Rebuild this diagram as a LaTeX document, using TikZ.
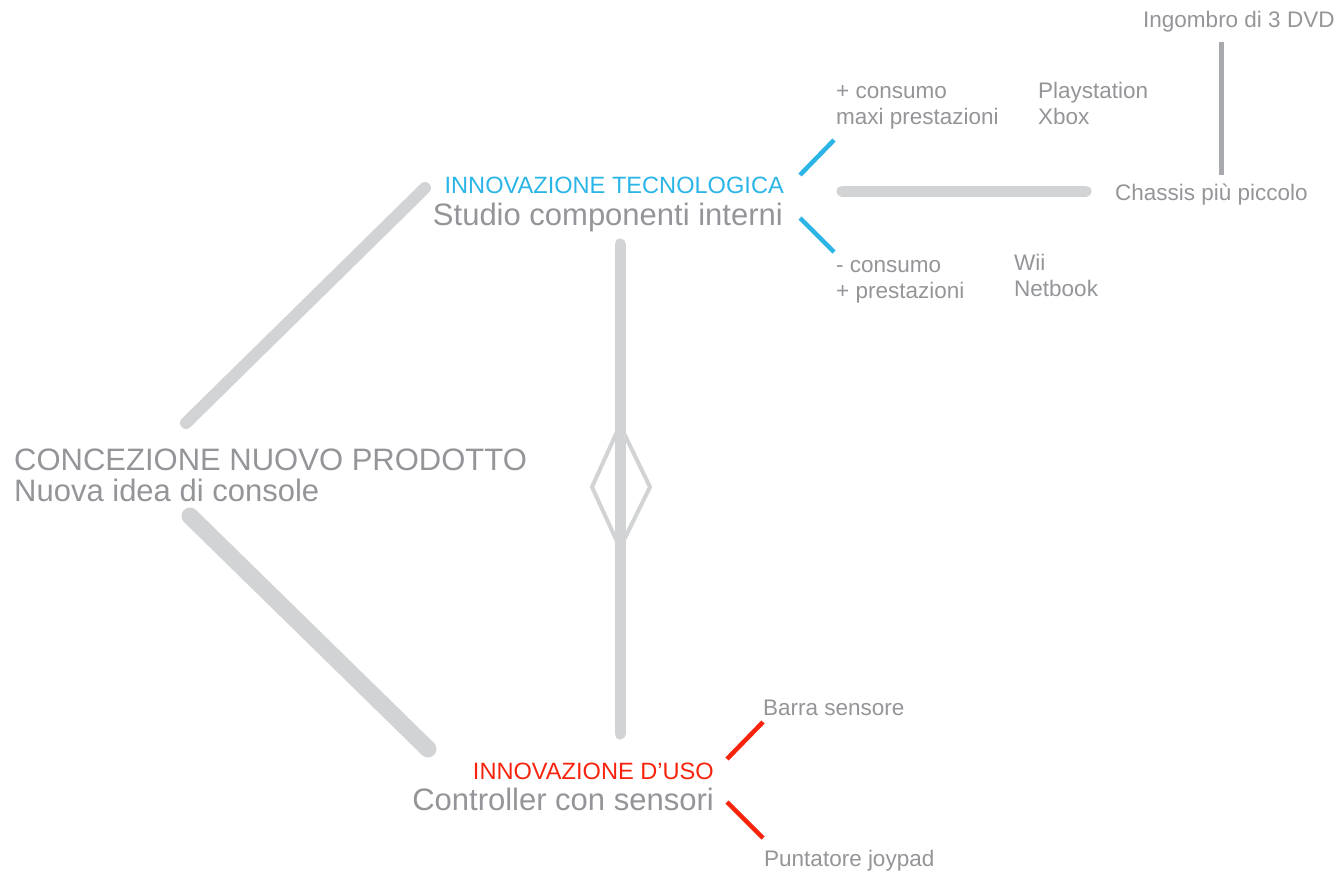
\documentclass[tikz,border=0pt]{standalone}
\usepackage{fontspec}
\setmainfont{Liberation Sans}
\usetikzlibrary{positioning}
\definecolor{txtgray}{HTML}{939598}
\definecolor{linegray}{HTML}{D1D3D4}
\definecolor{darkline}{HTML}{A7A9AC}
\definecolor{techblue}{HTML}{2BB5E6}
\definecolor{usered}{HTML}{F7230C}
\tikzset{>=stealth}

\begin{document}
\begin{tikzpicture}[x=1pt, y=-1pt,
                    bar/.style={line width=12pt, linegray, line cap=round},
                    fatbar/.style={line width=17pt, linegray, line cap=round},
                    thinbar/.style={line width=5pt, darkline},
                    diam/.style={line width=4pt, linegray, line join=miter},
                    bluetick/.style={line width=4.5pt, techblue},
                    redtick/.style={line width=4.5pt, usered},
                    small/.style={inner sep=0pt, text=txtgray, align=left, font=\fontsize{22.5}{26}\selectfont},
                    big/.style={inner sep=0pt, text=txtgray, font=\fontsize{31}{31}\selectfont},
                    head/.style={inner sep=0pt, font=\fontsize{23.6}{26}\selectfont},
                   ]

\useasboundingbox (0,0) rectangle (1339,876);

% main nodes
\node[big, anchor=base west] (concept) at (14,470) {CONCEZIONE NUOVO PRODOTTO};
\node[big, anchor=base west] (idea) at (14,501) {Nuova idea di console};

\node[head, text=techblue, anchor=base east] (tech) at (784,193) {INNOVAZIONE TECNOLOGICA};
\node[big, anchor=base east] (studio) at (783,225) {Studio componenti interni};

\node[head, text=usered, anchor=base east] (uso) at (714,779) {INNOVAZIONE D’USO};
\node[big, anchor=base east] (controller) at (714,810) {Controller con sensori};

% side notes (base = last line)
\node[small, anchor=base west] (plus) at (836,124) {+ consumo\\maxi prestazioni};
\node[small, anchor=base west] (ps) at (1038,124) {Playstation\\Xbox};
\node[small, anchor=base west] (minus) at (836,298) {- consumo\\+ prestazioni};
\node[small, anchor=base west] (wii) at (1014,296) {Wii\\Netbook};
\node[small, anchor=base west] (chassis) at (1115,200) {Chassis più piccolo};
\node[small, anchor=base west] (dvd) at (1143,27) {Ingombro di 3 DVD};
\node[small, anchor=base west] (barra) at (763,715) {Barra sensore};
\node[small, anchor=base west] (joypad) at (764,866) {Puntatore joypad};

% line ends
\coordinate (ul1) at (186,423);
\coordinate (ul2) at (425,188);
\coordinate (ll1) at (190,516);
\coordinate (ll2) at (428,749);
\coordinate (v1) at (620,244);
\coordinate (v2) at (620,734);
\coordinate (h1) at (842,191);
\coordinate (h2) at (1086,191);
\coordinate (r1) at (1221,42);
\coordinate (r2) at (1221,175);
\coordinate (bt1) at (800,175);
\coordinate (bt2) at (834,140);
\coordinate (bb1) at (800,218);
\coordinate (bb2) at (834,252);
\coordinate (rt1) at (727,759);
\coordinate (rt2) at (763,722);
\coordinate (rb1) at (727,802);
\coordinate (rb2) at (763,838);

\draw[bar] (ul1) -- (ul2);
\draw[fatbar] (ll1) -- (ll2);
\draw[bar, line width=11pt] (v1) -- (v2);
\draw[bar, line width=11pt] (h1) -- (h2);
\draw[thinbar] (r1) -- (r2);

\draw[diam] (620,425) -- (650,487) -- (620,548) -- (592,487) -- cycle;

\draw[bluetick] (bt1) -- (bt2);
\draw[bluetick] (bb1) -- (bb2);
\draw[redtick] (rt1) -- (rt2);
\draw[redtick] (rb1) -- (rb2);

\end{tikzpicture}
\end{document}
